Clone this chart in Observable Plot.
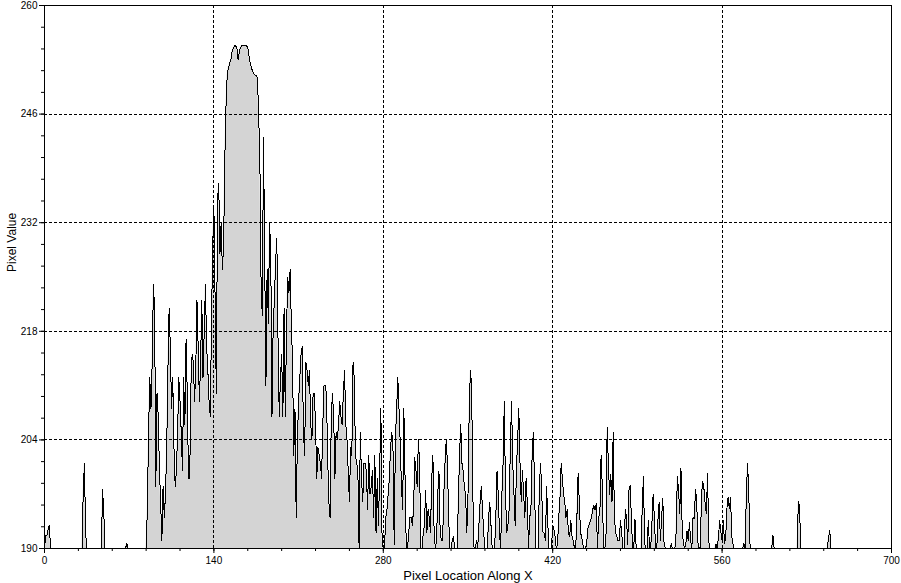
<!DOCTYPE html>
<html><head><meta charset="utf-8">
<script src="https://cdn.jsdelivr.net/npm/d3@7"></script>
<script src="https://cdn.jsdelivr.net/npm/@observablehq/plot@0.6"></script>
<style>html,body{margin:0;padding:0;background:#fff;} svg{display:block}</style>
</head><body><div id="chart"></div>
<script>
// Pixel location along X starts at 0, one value per pixel
const xStart = 0;
const pixelValues = [
190,191.7,191.7,192.5,193,190,190,190,190,190,
190,190,190,190,190,190,190,190,190,190,
190,190,190,190,190,190,190,190,190,190,
190,190,197.3,201,192,190,190,190,190,190,
190,190,190,190,190,190,190,190,197.6,194.7,
190,190,190,190,190,190,190,190,190,190,
190,190,190,190,190,190,190,190,190.7,190,
190,190,190,190,190,190,190,190,190,190,
190,190,190,190,190,195,205,212,208,214,
224,221,198,210,207,200,196,191,198,194,
197,203,213,221,216,208,212,203,198,200,
205,212,209,205,200,212,206,217,210,199,
199,211,215,214,209,213,222,216,209,214,
222,212,218,224,216,213,209,207,219,229,
234,222,210,235,237,228,232,226,229,240,
247,251,252,252.5,253,254,254.5,254.8,254.8,254.5,
253,254,254.6,254.8,254.8,254.8,254.8,254.8,254.6,253.5,
252.5,252,251.5,251.2,251,251,250.7,246,240,224,
220,243,227,211,226,219,232,228,207,219,
222,227,230,217,207,212,215,207,221,207,
218,225,223,226,219,214,202,208,194,204,
209,212,215,216,205,202,214,213,211,213,
206,204,210,210,206,199,203,202,201,199,
206,211,211,210,202,196,194,207,210,207,
199,205,204,206,209,207,206,210,213,206,
204,200,196,203,202,214,212,202,201,200,
190,205,199,196,201,201,200,195,202,197,
198,200,194,202,192,199,193,200,208,191,
190,190,194,195,197,199,203,205,203,190.5,
204,208,212,208,203.5,198,195,208,199,190,
190,192,194,194,193,195,201.7,200,198,204,
201,190,190,192,193,197.5,192,195,194,192,
199,202,192,190,191,197,200,192,191,191,
197,201,204,201,194,190,190,191,191.5,190,
190,190,196,202,206,201,200,198,197,192,
197,208,213,211,197,190,190,191,190,193,
196,198,195,192,190,190,190,194,196,193,
190,190,190,194,200,197,192,190,197,201,
209,197,192,193,195,203,209,201,197,193,
200,204,208,201,196,200,197,194,199,196,
190,194,195,202,205,198,190,190,190,198,
201,197,192,192,191,198,193,190,190,190,
193,192.5,191.5,190,190.5,194,196.5,201,199,197,
196,194,195,192,191.5,193.6,191.5,191,190,190,
194,199.7,196,192,191.5,190.5,190,190,190.5,192.5,
193,193.5,194,195,195.5,195,195.8,190,194,194.5,
202,198,190,190,191,205.6,201,197,199.5,196,
205,194,192,191.5,191,191,193.6,192,190,190,
195,194,190.5,197.5,198.1,194,190,190,193.8,190,
190,190,190,190,195.3,199.3,190.6,190,190,193.6,
190.2,190,193.2,197,194,190.2,190,193.7,196,191,
194,196.4,190.8,190,190,190,190,190,190.6,190,
190,190,192.1,199.3,197.6,194.5,200.3,192.7,190.6,190,
190.6,192.2,191,193.4,191,190,194,193.8,197.6,196.2,
190.8,190,190.2,197,198.6,197.7,195.8,194.5,199.7,190.8,
190,190,190,190,190,190.6,190,191.5,193.6,192.1,
191,193.6,190.6,191.5,195.2,196.6,195.1,196.6,191.5,190.6,
190,190,190,190,190,190,190,190,190.6,190,
196.7,201,197.5,190.6,190,190,190,190,190,190,
190,190,190,190,190,190,190,190,190,190,
190,190,191.7,190,190,190,190,190,190,190,
190,190,190,190,190,190,190,190,190,190,
190,190,190,196,195.5,190,190,190,190,190,
190,190,190,190,190,190,190,190,190,190,
190,190,190,190,190,190,190,190,191.5,192.3,
190,190,190,190,190,190,190,190,190,190,
190,190,190,190,190,190,190,190,190,190,
190,190,190,190,190,190,190,190,190,190,
190,190,190,190,190,190,190,190,190,190,
190,190,190,190,190,190,190,190,190,190,
190
];
const xTicks = [0, 140, 280, 420, 560, 700];
const yTicks = [190, 204, 218, 232, 246, 260];
const xGrid = [140, 280, 420, 560];
const yGrid = [204, 218, 232, 246];
const xTitle = "Pixel Location Along X";
const yTitle = "Pixel Value";

const data = pixelValues.map((v, i) => ({x: xStart + i, y: v}));
const xMinor = d3.range(0, 701, 28);
const yMinor = d3.range(0, 26).map(i => 190 + i * 2.8);

const chart = Plot.plot({
  width: 901,
  height: 583,
  marginLeft: 44,
  marginRight: 10,
  marginTop: 5,
  marginBottom: 35,
  style: {fontFamily: "'Liberation Sans', Arial, sans-serif", fontSize: "10px", background: "#fff", color: "#000"},
  x: {domain: [0, 700]},
  y: {domain: [190, 260]},
  marks: [
    Plot.areaY(data, {x: "x", y1: 190, y2: "y", fill: "#d4d4d4"}),
    Plot.ruleX(xGrid, {stroke: "#000", strokeDasharray: "3,2", shapeRendering: "crispEdges"}),
    Plot.ruleY(yGrid, {stroke: "#000", strokeDasharray: "3,2", shapeRendering: "crispEdges"}),
    Plot.lineY(data, {x: "x", y: "y", stroke: "#000", strokeWidth: 1, shapeRendering: "crispEdges"}),
    Plot.axisX(xMinor, {tickSize: 3, tickFormat: () => "", label: null}),
    Plot.axisX(xTicks, {tickSize: 5, tickPadding: 3, tickFormat: d => String(d), label: null, fontSize: 10}),
    Plot.axisY(yMinor, {tickSize: 3, tickFormat: () => "", label: null}),
    Plot.axisY(yTicks, {tickSize: 5, tickPadding: 2, tickFormat: d => String(d), label: null, fontSize: 10}),
    Plot.frame({stroke: "#000", shapeRendering: "crispEdges"}),
    Plot.text([xTitle], {frameAnchor: "bottom", lineAnchor: "middle", dy: 27, fontSize: 13, fill: "#000"}),
    Plot.text([yTitle], {frameAnchor: "left", lineAnchor: "middle", dx: -32, dy: -5, rotate: -90, fontSize: 12, fill: "#000"})
  ]
});
document.getElementById("chart").appendChild(chart);
</script>
</body></html>
